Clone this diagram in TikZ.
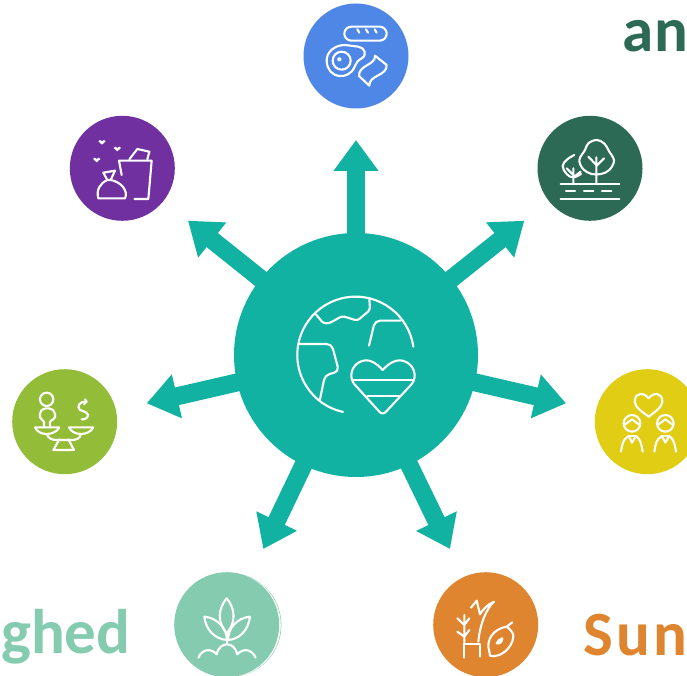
\documentclass[tikz,border=0pt]{standalone}
\usepackage{fontspec}
\setmainfont{Carlito}
\usetikzlibrary{arrows.meta}
\definecolor{teal1}{HTML}{12B2A3}
\definecolor{blue1}{HTML}{4F87E6}
\definecolor{purple1}{HTML}{70309F}
\definecolor{forest1}{HTML}{2D6A55}
\definecolor{lime1}{HTML}{93BD39}
\definecolor{yellow1}{HTML}{E0CD14}
\definecolor{mint1}{HTML}{84CBB0}
\definecolor{orange1}{HTML}{DF8530}
\tikzset{
  disc/.style={circle,draw=none,inner sep=0pt,minimum size=105pt},
  spoke/.style={draw=teal1,line width=18pt,shorten <=-4pt,-{Triangle[length=31pt,width=43pt]},teal1},
  icon/.style={draw=white,line width=2.1pt,line cap=round,line join=round},
  word/.style={anchor=base west,inner sep=0pt,font=\fontsize{63}{63}\selectfont\bfseries},
  zoomed/.style={x=.33333pt,y=-.33333pt},
}
\begin{document}
\begin{tikzpicture}[x=1pt,y=-1pt]
\clip (0,0) rectangle (687,676);
\fill[white] (0,0) rectangle (687,676);
% hub and outer discs
\node[disc,fill=teal1,minimum size=244pt] (hub) at (356,355) {};
\node[disc,fill=blue1] (food) at (356,56) {};
\node[disc,fill=purple1] (waste) at (122.3,168.3) {};
\node[disc,fill=forest1] (nature) at (590,168.3) {};
\node[disc,fill=lime1] (equity) at (64.7,421.7) {};
\node[disc,fill=yellow1] (love) at (647.3,421.7) {};
\fill[mint1] (229.2,625) circle[radius=52.2];
\fill[white] (228.6,625) circle[radius=52.2];
\node[disc,fill=mint1] (soil) at (226.7,624.7) {};
\node[disc,fill=orange1] (plants) at (485.7,624.7) {};
% arrow ends
\coordinate (tipA) at (356,140);
\coordinate (tipB) at (524.3,220.7);
\coordinate (tipC) at (566,403.3);
\coordinate (tipD) at (450,549);
\coordinate (tipE) at (263.3,549);
\coordinate (tipF) at (146.7,403.3);
\coordinate (tipG) at (188,220.7);
\foreach \t in {tipA,tipB,tipC,tipD,tipE,tipF,tipG}{\draw[spoke] (hub) -- (\t);}
% words
\node[word,text=forest1] (w1) at (622,52) {\addfontfeature{LetterSpace=2}an};
\node[word,text=mint1] (w2) at (1,653) {ghed};
\node[word,text=orange1] (w3) at (583,655) {\addfontfeature{LetterSpace=5}Sune};
% globe
\begin{scope}[shift={(280,280)},zoomed,icon]
\draw (400,200) arc[start angle=-8.2,end angle=-257.5,radius=175];
\draw[rounded corners=2.7pt] (108,103)--(130,130)--(147,130)--(187,108)--(232,122)--(270,90)--(268,55);
\draw[rounded corners=5pt] (267,197)--(285,122)--(362,122);
\draw[rounded corners=5pt] (55,192)--(155,192)--(177,275)--(135,285)--(120,358);
\draw (308,270) .. controls (290,250) and (272,240) .. (258,241) .. controls (232,243) and (214,262) .. (214,287) .. controls (214,300) and (220,310) .. (228,318) -- (298,395) .. controls (304,402) and (312,402) .. (318,395) -- (390,318) .. controls (398,310) and (404,300) .. (404,287) .. controls (404,262) and (385,243) .. (360,241) .. controls (345,240) and (326,250) .. (308,270);
\draw (218,300)--(402,300) (262,347)--(360,347);
\end{scope}
% food
\begin{scope}[shift={(280,0)},zoomed,icon]
\draw (214,80) -- (299,80) arc[start angle=-90,end angle=90,radius=21] -- (214,122) arc[start angle=90,end angle=270,radius=21];
\draw (232,88)--(238,98) (258,88)--(264,98) (284,88)--(290,98);
\draw (140,185) .. controls (138,155) and (165,135) .. (195,135) -- (235,140) .. controls (255,143) and (262,165) .. (245,175) .. controls (232,182) and (228,190) .. (224,200) .. controls (215,222) and (195,230) .. (178,228) .. controls (155,225) and (142,208) .. (140,185);
\draw (185,155) arc[start angle=-90,end angle=270,radius=27];
\draw (178,178) circle[radius=4];
\draw (285,167) .. controls (288,195) and (235,195) .. (237,228) -- (268,257) .. controls (266,225) and (322,228) .. (320,195) -- cycle;
\end{scope}
% waste
\begin{scope}[shift={(50,100)},zoomed,icon]
\foreach \p in {(156,127),(202,147),(140,180)}{\fill[white,shift={\p}] (0,7)--(-11,-3)--(-6,-7)--(0,-3)--(6,-7)--(11,-3)--cycle;}
\draw (215,225)--(207,182)--(305,182)--(295,297)--(253,297);
\draw (238,178)--(262,147)--(298,155)--(292,178);
\draw (172,240)--(160,218)--(195,212)--(182,240);
\draw (172,240) .. controls (150,250) and (138,270) .. (145,295) -- (225,295) .. controls (236,272) and (212,245) .. (182,240) -- (172,240);
\end{scope}
% nature
\begin{scope}[shift={(520,100)},zoomed,icon]
\draw (122,252)--(298,252) (122,298)--(298,298);
\draw (138,274)--(165,274) (192,274)--(220,274) (246,274)--(274,274);
\draw (229,172)--(229,248) (205,170)--(229,195) (252,175)--(229,198);
\draw plot[smooth cycle,tension=.6] coordinates {(215,222)(190,208)(178,180)(195,150)(205,130)(230,120)(252,130)(268,155)(282,182)(268,210)(243,222)};
\draw (160,205)--(160,250) (140,205)--(160,225) (182,215)--(160,232);
\draw plot[smooth,tension=.7] coordinates {(163,165)(142,178)(128,198)(140,222)(160,232)(183,222)};
\end{scope}
% equity
\begin{scope}[shift={(0,360)},zoomed,icon]
\draw (140,118) circle[radius=20];
\draw[rounded corners=2pt] (132,200)--(132,180)--(120,178)--(120,155)--(132,145)--(152,145)--(165,155)--(165,178)--(150,180)--(150,200);
\draw (105,202)--(178,202) .. controls (172,215) and (155,222) .. (140,222) .. controls (125,222) and (110,215) .. (105,202);
\draw (207,202)--(280,202) .. controls (274,215) and (258,222) .. (243,222) .. controls (228,222) and (212,215) .. (207,202);
\draw (140,222) .. controls (145,235) and (155,240) .. (170,240) -- (215,240) .. controls (230,240) and (240,235) .. (243,222);
\draw (178,238)--(160,270)--(222,270)--(205,238);
\draw (260,125) .. controls (240,122) and (228,140) .. (240,150) .. controls (255,155) and (270,160) .. (262,172) .. controls (258,178) and (250,178) .. (245,178);
\draw (255,118)--(260,125)--(252,132);
\end{scope}
% love
\begin{scope}[shift={(587,360)},zoomed,icon]
\draw (185,115) .. controls (172,97) and (143,95) .. (143,125) .. controls (143,142) and (170,158) .. (185,170) .. controls (200,158) and (226,142) .. (226,125) .. controls (226,95) and (198,97) .. (185,115);
\foreach \d in {0,100}{
\begin{scope}[shift={(\d,0)}]
\draw (135,190) circle[radius=25];
\draw (112,195) -- (135,178) -- (158,195);
\draw (102,275) .. controls (106,250) and (108,238) .. (125,228) -- (135,248) -- (147,228) .. controls (160,238) and (163,250) .. (167,275);
\draw (125,228) -- (147,228);
\end{scope}}
\end{scope}
% soil
\begin{scope}[shift={(165,565)},zoomed,icon]
\draw (185,100) .. controls (160,130) and (155,170) .. (185,205) .. controls (215,170) and (210,130) .. (185,100);
\draw (118,155) .. controls (122,195) and (150,222) .. (185,225) .. controls (188,190) and (155,158) .. (118,155);
\draw (255,155) .. controls (250,195) and (225,222) .. (190,225) .. controls (187,190) and (218,158) .. (255,155);
\draw (187,205)--(187,238);
\draw (100,278) .. controls (112,250) and (140,250) .. (155,268) .. controls (160,245) and (175,238) .. (186,238) .. controls (200,238) and (212,248) .. (217,268) .. controls (232,250) and (260,250) .. (272,278);
\end{scope}
% plants
\begin{scope}[shift={(425,565)},zoomed,icon]
\draw (262,172)--(245,185) .. controls (220,188) and (188,210) .. (190,245) .. controls (192,258) and (195,265) .. (195,272) .. controls (225,280) and (262,250) .. (265,215) .. controls (266,205) and (258,195) .. (245,185);
\draw (215,235) .. controls (218,228) and (224,222) .. (232,220) .. controls (232,230) and (224,238) .. (215,235);
\draw (138,128)--(155,107)--(165,148) .. controls (172,135) and (188,118) .. (207,110) .. controls (185,130) and (165,175) .. (160,230);
\draw (118,278)--(118,238)--(165,238)--(165,275);
\draw (118,150)--(118,238) (97,160)--(118,180)--(133,160) (97,200)--(118,215)--(133,195);
\end{scope}
\end{tikzpicture}
\end{document}
